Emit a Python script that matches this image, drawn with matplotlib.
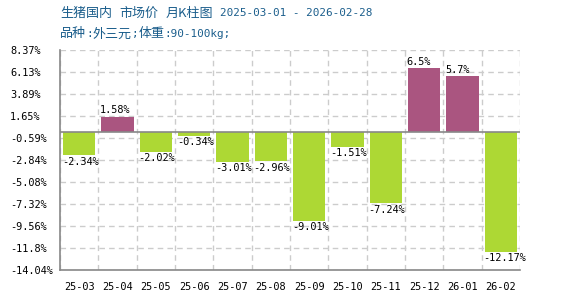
import matplotlib
matplotlib.use("Agg")
import matplotlib.pyplot as plt
from matplotlib.text import Annotation
import numpy as np

months = ["25-03", "25-04", "25-05", "25-06", "25-07", "25-08",
          "25-09", "25-10", "25-11", "25-12", "26-01", "26-02"]
values = [-2.34, 1.58, -2.02, -0.34, -3.01, -2.96,
          -9.01, -1.51, -7.24, 6.5, 5.7, -12.17]
value_labels = ["-2.34%", "1.58%", "-2.02%", "-0.34%", "-3.01%", "-2.96%",
                "-9.01%", "-1.51%", "-7.24%", "6.5%", "5.7%", "-12.17%"]
yticks = [8.37, 6.13, 3.89, 1.65, -0.59, -2.84, -5.08, -7.32, -9.56, -11.8, -14.04]
ytick_labels = ["8.37%", "6.13%", "3.89%", "1.65%", "-0.59%", "-2.84%",
                "-5.08%", "-7.32%", "-9.56%", "-11.8%", "-14.04%"]
# title pieces: (text, is_cjk, gap_before_px)
title1_parts = [("生猪国内", True, 0), ("市场价", True, 7), ("月K柱图", True, 8),
                ("2025-03-01 - 2026-02-28", False, 6)]
title2_parts = [("品种", True, 0), (":", False, 0), ("外三元", True, 0), (";", False, 0),
                ("体重", True, 0), (":90-100kg;", False, 0)]

POS = "#aa5580"
NEG = "#add834"
TITLE_C = "#1b5e8c"
MONO = "DejaVu Sans Mono"
CJK = "Noto Sans CJK SC"
CJK_SIZE = 9.4
MONO_SIZE = 7.9

fig = plt.figure(figsize=(5.7, 3.0), dpi=100)
ax = fig.add_axes([60/570, 30/300, 460/570, 220/300])

x = np.arange(len(months))
bw = 0.835
colors = [POS if v >= 0 else NEG for v in values]
ax.bar(x, values, width=bw, color=colors, zorder=3)

ax.set_xlim(-0.5, len(months) - 0.5)
ax.set_ylim(yticks[-1], yticks[0])

ax.set_yticks(yticks)
ax.set_yticklabels(ytick_labels, fontsize=7.4, family=MONO, ha="left")
ax.tick_params(axis="y", length=0, pad=36)
ax.set_xticks(x)
ax.set_xticklabels(months, fontsize=7.4, family=MONO)
ax.tick_params(axis="x", length=0, pad=9)
ax.set_xticks(np.arange(-0.5, len(months)), minor=True)
ax.tick_params(axis="x", which="minor", length=0)
ax.grid(True, axis="y", which="major", color="#cccccc", linestyle=(0, (4, 3)), linewidth=1.0, zorder=1)
ax.grid(True, axis="x", which="minor", color="#cccccc", linestyle=(0, (4, 3)), linewidth=1.0, zorder=1)
ax.grid(False, axis="x", which="major")

for s in ["top", "right"]:
    ax.spines[s].set_visible(False)
for s in ["left", "bottom"]:
    ax.spines[s].set_color("#888888")
    ax.spines[s].set_linewidth(1.2)
ax.axhline(0, color="#888888", linewidth=1.2, zorder=4)

for xi, v, lab in zip(x, values, value_labels):
    if v >= 0:
        ax.annotate(lab, (xi - bw/2, v), xytext=(-1, 1), textcoords="offset points",
                    ha="left", va="bottom", fontsize=7.4, family=MONO, zorder=5)
    else:
        ax.annotate(lab, (xi - bw/2, v), xytext=(-1, -1), textcoords="offset points",
                    ha="left", va="top", fontsize=7.4, family=MONO, zorder=5)


def chain(parts, y_px):
    last = None
    for text, is_cjk, gap in parts:
        kw = dict(fontsize=CJK_SIZE if is_cjk else MONO_SIZE,
                  family=CJK if is_cjk else MONO, color=TITLE_C,
                  ha="left", va="center")
        if last is None:
            last = fig.text(60/570, 1 - y_px/300, text, **kw)
        else:
            last = fig.add_artist(Annotation(
                text, xy=(1, 0.5), xycoords=last,
                xytext=(gap * 72 / 100, 0), textcoords="offset points",
                annotation_clip=False, **kw))


chain(title1_parts, 13)
chain(title2_parts, 34)

fig.savefig("out.png", dpi=100)
